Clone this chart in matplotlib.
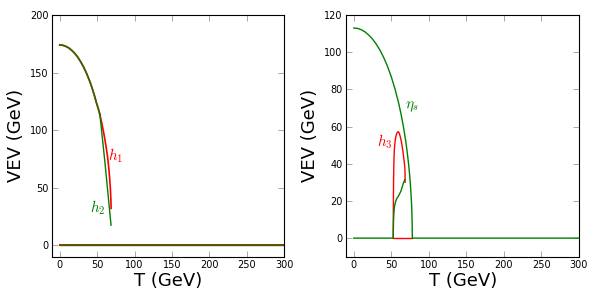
import matplotlib
matplotlib.use("Agg")
import matplotlib.pyplot as plt

plt.rcParams['mathtext.fontset'] = 'cm'

# left panel: h1 / h2 (common branch, then they split)
T_common = [0, 4, 8, 12, 16, 20, 24, 28, 32, 36, 40, 43, 46, 49, 51.5, 53.6]
v_common = [174, 173.7, 172.8, 171.4, 169.3, 166.7, 163.4, 159.3, 154.6, 149.0, 142.5,
            136.9, 130.7, 123.7, 118.5, 113.5]

T_h1 = [53.6, 56, 58, 60, 62, 64, 65.5, 66.8, 67.8, 68.4, 68.6]
v_h1 = [113.5, 106.5, 100, 93, 85, 76, 67, 57, 47, 38, 32]

T_h2 = [53.6, 60.5, 68.5]
v_h2 = [113.5, 71, 17.4]

T_zero = [0, 300]
v_zero = [0, 0]

# right panel: eta_s and h3
T_eta = [0, 5, 10, 15, 20, 25, 30, 35, 40, 45, 50, 55, 60, 63, 66, 69, 71, 73,
         74.5, 75.5, 76.5, 77.2, 77.7, 78, 300]
v_eta = [113, 112.8, 112.1, 110.9, 109.2, 107.0, 104.3, 101.0, 97.0, 92.3, 86.7, 80.1,
         72.2, 66.6, 60.2, 52.7, 46.8, 39.8, 33.5, 28.4, 22.0, 16.1, 9.0, 0, 0]

T_eta_low = [0, 52.5, 52.7, 53, 53.5, 54, 55, 56, 57, 58, 59.3, 61, 63, 64.5, 66, 67.5, 68.3]
v_eta_low = [0, 0, 5, 10, 14, 16.5, 18.5, 20, 21, 21.8, 22.4, 23.8, 25.5, 27.5, 29.5, 31, 31.5]

T_h3_zero = [52.5, 78]
v_h3_zero = [0, 0]

T_h3 = [52.5, 52.7, 53, 53.5, 54, 55, 56, 57, 58, 59.3, 60.5, 62, 63.8, 65.5, 66.9, 68, 68.3, 68.3]
v_h3 = [0, 15, 32, 42, 47.5, 52, 54.5, 56, 57, 57.2, 56.5, 54.5, 51, 46.5, 42, 38, 35, 30]

fig = plt.figure(figsize=(5.99, 3.0), dpi=100)
ax1 = fig.add_axes([0.0873, 0.1443, 0.3873, 0.8057])
ax2 = fig.add_axes([0.5781, 0.1443, 0.3885, 0.8057])

red = '#ff0000'
green = '#008000'

# left
ax1.plot(T_zero, v_zero, color=red, lw=1.4)
ax1.plot(T_zero, v_zero, color=green, lw=1.0)
ax1.plot(T_common, v_common, color=red, lw=1.3)
ax1.plot(T_h1, v_h1, color=red, lw=1.2)
ax1.plot(T_common, v_common, color=green, lw=1.0)
ax1.plot(T_h2, v_h2, color=green, lw=1.0)
ax1.text(64, 78, r'$h_1$', color=red, fontsize=11, va='center')
ax1.text(40, 33, r'$h_2$', color=green, fontsize=11, va='center')
ax1.set_xlim(-10, 300)
ax1.set_ylim(-10, 200)
ax1.set_yticks([0, 50, 100, 150, 200])

# right
ax2.plot(T_h3_zero, v_h3_zero, color=red, lw=1.0)
ax2.plot(T_h3, v_h3, color=red, lw=1.0)
ax2.plot(T_eta, v_eta, color=green, lw=1.0)
ax2.plot(T_eta_low, v_eta_low, color=green, lw=1.0)
ax2.text(68, 71, r'$\eta_s$', color=green, fontsize=11, va='center')
ax2.text(31, 52, r'$h_3$', color=red, fontsize=11, va='center')
ax2.set_xlim(-10, 300)
ax2.set_ylim(-10, 120)
ax2.set_yticks([0, 20, 40, 60, 80, 100, 120])

for ax in (ax1, ax2):
    ax.set_xticks([0, 50, 100, 150, 200, 250, 300])
    ax.tick_params(direction='in', top=True, right=True, length=4, width=0.6,
                   color='#999999', labelsize=7, pad=2.5)
    ax.set_xlabel('T (GeV)', fontsize=13, labelpad=1)
    ax.set_ylabel('VEV (GeV)', fontsize=13, labelpad=4)
    for s in ax.spines.values():
        s.set_linewidth(0.8)

fig.savefig('out.png', dpi=100)
